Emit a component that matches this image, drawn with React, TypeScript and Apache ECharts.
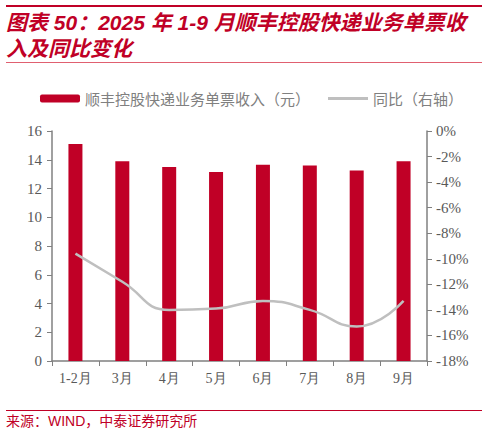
import React, { useEffect, useRef } from "react";
import * as echarts from "echarts";

// 2025 年 1-9 月顺丰控股快递业务单票收入及同比
const months = ["1-2月", "3月", "4月", "5月", "6月", "7月", "8月", "9月"];
const revenuePerTicket = [15.1, 13.9, 13.5, 13.15, 13.65, 13.6, 13.25, 13.9];
const yoyChange = [-9.6, -11.8, -14.0, -13.9, -13.3, -14.0, -15.3, -13.3];

const RED = "#c00026";
const GRAY_LINE = "#bfbfbf";
const AXIS = "#808080";
const LABEL = "#595959";
const SERIF = "'Liberation Serif', 'DejaVu Serif', serif";
const CJK = "'Noto Sans CJK SC', sans-serif";
const MIXED = "'Liberation Sans', 'Noto Sans CJK SC', sans-serif";

export default function App() {
  const chartRef = useRef<HTMLDivElement>(null);

  useEffect(() => {
    document.body.style.margin = "0";
    if (!chartRef.current) return;
    const chart = echarts.init(chartRef.current, null, { renderer: "svg" });

    chart.setOption({
      animation: false,
      backgroundColor: "#ffffff",
      graphic: [
        {
          type: "rect",
          shape: { x: 6, y: 5, width: 476, height: 2 },
          style: { fill: RED },
        },
        {
          type: "text",
          x: 6,
          y: 22,
          style: {
            text: "图表 50：2025 年 1-9 月顺丰控股快递业务单票收",
            fill: RED,
            font: `italic bold 21px ${MIXED}`,
            verticalAlign: "middle",
          },
        },
        {
          type: "text",
          x: 6,
          y: 48,
          style: {
            text: "入及同比变化",
            fill: RED,
            font: `italic bold 21px ${MIXED}`,
            verticalAlign: "middle",
          },
        },
        {
          type: "rect",
          shape: { x: 6, y: 62, width: 476, height: 1 },
          style: { fill: "#e06070" },
        },
        {
          type: "rect",
          shape: { x: 6, y: 410, width: 476, height: 1 },
          style: { fill: RED },
        },
        {
          type: "text",
          x: 6,
          y: 421,
          style: {
            text: "来源：WIND，中泰证券研究所",
            fill: RED,
            font: `14px ${MIXED}`,
            verticalAlign: "middle",
          },
        },
      ],
      legend: [
        {
          data: ["顺丰控股快递业务单票收入（元）"],
          left: 35,
          top: 86,
          itemWidth: 40,
          itemHeight: 8,
          itemGap: 6,
          textStyle: { color: AXIS, fontSize: 15, fontFamily: CJK },
        },
        {
          data: ["同比（右轴）"],
          left: 323,
          top: 86,
          itemWidth: 40,
          itemHeight: 3,
          icon: "rect",
          textStyle: { color: AXIS, fontSize: 15, fontFamily: CJK },
        },
      ],
      grid: { left: 52, right: 61, top: 131, bottom: 73 },
      xAxis: {
        type: "category",
        data: months,
        boundaryGap: true,
        axisLine: { lineStyle: { color: AXIS, width: 1.5 } },
        axisTick: { show: true, alignWithLabel: false, length: 5, lineStyle: { color: AXIS } },
        axisLabel: { color: LABEL, fontSize: 14, fontFamily: SERIF, margin: 10 },
      },
      yAxis: [
        {
          type: "value",
          min: 0,
          max: 16,
          interval: 2,
          splitLine: { show: false },
          axisLine: { show: true, lineStyle: { color: AXIS, width: 1.5 } },
          axisTick: { show: true, length: 5, lineStyle: { color: AXIS } },
          axisLabel: { color: LABEL, fontSize: 15, fontFamily: SERIF, margin: 10 },
        },
        {
          type: "value",
          min: -18,
          max: 0,
          interval: 2,
          position: "right",
          splitLine: { show: false },
          axisLine: { show: true, lineStyle: { color: AXIS, width: 1.5 } },
          axisTick: { show: true, length: 5, lineStyle: { color: AXIS } },
          axisLabel: {
            color: LABEL,
            fontSize: 15,
            fontFamily: SERIF,
            margin: 9,
            formatter: (v: number) => `${v}%`,
          },
        },
      ],
      series: [
        {
          name: "顺丰控股快递业务单票收入（元）",
          type: "bar",
          data: revenuePerTicket,
          barWidth: 14,
          itemStyle: { color: RED },
        },
        {
          name: "同比（右轴）",
          type: "line",
          yAxisIndex: 1,
          data: yoyChange,
          smooth: true,
          symbol: "none",
          lineStyle: { color: GRAY_LINE, width: 2.5 },
          itemStyle: { color: GRAY_LINE },
        },
      ],
    });

    return () => chart.dispose();
  }, []);

  return <div ref={chartRef} style={{ width: 488, height: 434 }} />;
}
